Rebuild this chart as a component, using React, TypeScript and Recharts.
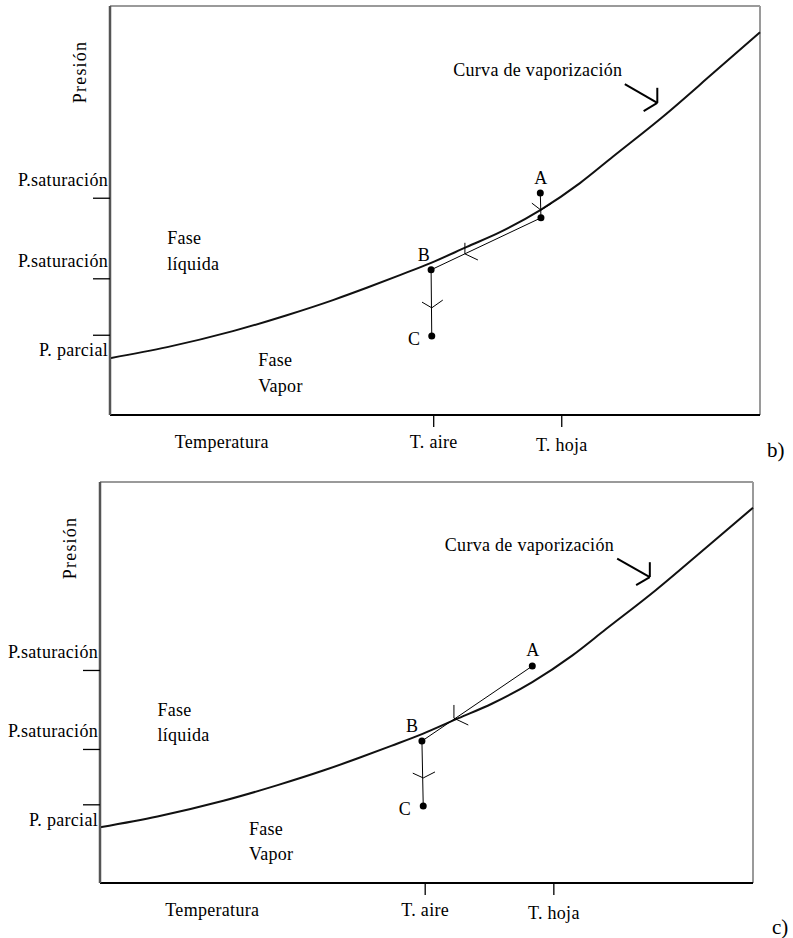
import { ComposedChart, Line, Scatter, XAxis, YAxis, ReferenceLine, ReferenceDot } from 'recharts'

// Vaporization curve, pressure vs temperature (arbitrary 0-100 units)
const curveT = [0, 8.8, 18.9, 27.2, 34.3, 39.5, 44.6, 49.4, 54.9, 60.0, 66.2, 72.3, 77.4, 85.1, 92.8, 100]
const curveP = [13.9, 16.6, 20.5, 24.4, 28.1, 31.1, 34.2, 37.2, 41.1, 44.7, 50.1, 56.7, 63.2, 73.0, 83.6, 93.6]

const pressureTicks = [19.5, 33.3, 53.0]
const pressureLabels = ['P. parcial', 'P.saturación', 'P.saturación']
const tempTicks = [17.2, 49.8, 69.5]
const tempLabels = ['Temperatura', 'T. aire', 'T. hoja']

// Region / curve annotations shared by both panels
const regionText = ['Fase', 'líquida', 'Fase', 'Vapor', 'Curva de vaporización']
const regionT = [8.8, 8.8, 22.8, 22.8, 52.8]
const regionP = [43.2, 37.0, 13.4, 7.2, 84.4]

// pointer from the curve label to the curve: [t1, p1, t2, p2]
const pointerSegs = [
  [79.2, 80.9, 84.2, 76.3],
  [84.2, 80.0, 84.2, 76.3],
  [82.1, 74.3, 84.2, 76.3],
]

// panel b: A -> A' (cooling at the leaf) -> B -> C
const pointNamesB = ['A', '', 'B', 'C']
const pointTB = [66.2, 66.3, 49.4, 49.5]
const pointPB = [54.3, 48.2, 35.5, 19.3]
const labelTB = [66.3, 0, 48.3, 46.8]
const labelPB = [57.9, 0, 39.1, 18.6]
const segsB = [
  [66.2, 54.3, 66.3, 48.2],
  [66.3, 48.2, 49.4, 35.5],
  [49.4, 35.5, 49.5, 19.3],
  // arrow heads
  [64.9, 51.8, 66.3, 50.1],
  [68.0, 51.8, 66.3, 50.1],
  [54.6, 42.1, 54.6, 39.4],
  [56.6, 37.9, 54.6, 39.4],
  [48.0, 27.6, 49.5, 26.2],
  [51.2, 28.1, 49.5, 26.2],
]

// panel c: A -> B directly -> C
const pointNamesC = ['A', 'B', 'C']
const pointTC = [66.2, 49.3, 49.5]
const pointPC = [54.1, 35.4, 19.2]
const labelTC = [66.3, 47.8, 46.7]
const labelPC = [58.1, 39.2, 18.5]
const segsC = [
  [66.2, 54.1, 49.3, 35.4],
  [49.3, 35.4, 49.5, 19.2],
  [54.2, 44.4, 54.2, 41.1],
  [56.4, 39.4, 54.2, 41.1],
  [47.9, 27.4, 49.5, 26.2],
  [51.3, 27.7, 49.5, 26.2],
]

const FONT = '"Liberation Serif", "Times New Roman", serif'
const txtStyle = { fontFamily: FONT, fontSize: 18, letterSpacing: 0.3 }
const curve = curveT.map((t, i) => ({ x: t, y: curveP[i] }))

const YTick = (props: any) => {
  const { x, y, index } = props
  const dy = index === 0 ? 21 : -12
  return (
    <text x={x + 15} y={y + dy} textAnchor="end" style={txtStyle} fill="#000">
      {pressureLabels[index]}
    </text>
  )
}

const XTick = (props: any) => {
  const { x, y, index } = props
  return (
    <g>
      {index > 0 && <line x1={x} y1={y} x2={x} y2={y + 12} stroke="#000" strokeWidth={1.3} />}
      <text x={x} y={y + 33 + (index === 2 ? 3 : 0)} textAnchor="middle" style={txtStyle} fill="#000">
        {tempLabels[index]}
      </text>
    </g>
  )
}

const PressureTitle = (props: any) => {
  const vb = props.viewBox
  const cx = vb.x + vb.width - 30
  const cy = vb.y + 66
  return (
    <text
      x={cx}
      y={cy}
      dy={6}
      textAnchor="middle"
      transform={`rotate(-90 ${cx} ${cy})`}
      style={{ fontFamily: FONT, fontSize: 18, letterSpacing: 1.2 }}
      fill="#000"
    >
      Presión
    </text>
  )
}

const textShape = (label: string, anchor: 'start' | 'middle') => (p: any) => (
  <text x={p.cx} y={p.cy} dy={6} textAnchor={anchor} style={txtStyle} fill="#000">
    {label}
  </text>
)

interface PanelProps {
  top: number
  height: number
  margin: { top: number; right: number; bottom: number; left: number }
  names: string[]
  pts: number[][]
  labels: number[][]
  segs: number[][]
}

function Panel({ top, height, margin, names, pts, labels, segs }: PanelProps) {
  const dots = pts[0].map((t, i) => ({ x: t, y: pts[1][i] }))
  return (
    <div style={{ position: 'absolute', left: 0, top }}>
      <ComposedChart width={793} height={height} data={curve} margin={margin}>
        <XAxis
          type="number"
          dataKey="x"
          domain={[0, 100]}
          ticks={tempTicks}
          tick={<XTick />}
          tickLine={false}
          tickSize={0}
          tickMargin={0}
          height={40}
          axisLine={{ stroke: '#000', strokeWidth: 2 }}
          interval={0}
        />
        <YAxis
          type="number"
          dataKey="y"
          domain={[0, 100]}
          ticks={pressureTicks}
          tick={<YTick />}
          tickLine={{ stroke: '#000', strokeWidth: 1.3 }}
          tickSize={17}
          tickMargin={0}
          width={60}
          axisLine={{ stroke: '#555', strokeWidth: 2.5 }}
          interval={0}
          label={<PressureTitle />}
        />
        {/* frame, top and right */}
        <ReferenceLine y={100} stroke="#9a9a9a" strokeWidth={2} ifOverflow="visible" />
        <ReferenceLine x={100} stroke="#9a9a9a" strokeWidth={2} ifOverflow="visible" />
        <Line
          type="monotone"
          dataKey="y"
          stroke="#111"
          strokeWidth={2}
          dot={false}
          isAnimationActive={false}
        />
        {segs.map((s, i) => (
          <ReferenceLine
            key={'s' + i}
            segment={[{ x: s[0], y: s[1] }, { x: s[2], y: s[3] }]}
            stroke="#000"
            strokeWidth={1}
            ifOverflow="visible"
          />
        ))}
        {pointerSegs.map((s, i) => (
          <ReferenceLine
            key={'p' + i}
            segment={[{ x: s[0], y: s[1] }, { x: s[2], y: s[3] }]}
            stroke="#000"
            strokeWidth={2}
            ifOverflow="visible"
          />
        ))}
        <Scatter
          data={dots}
          dataKey="y"
          fill="#000"
          isAnimationActive={false}
          shape={(p: any) => <circle cx={p.cx} cy={p.cy} r={3.5} fill="#000" />}
        />
        {names.map((n, i) =>
          n ? (
            <ReferenceDot
              key={'n' + i}
              x={labels[0][i]}
              y={labels[1][i]}
              r={0}
              shape={textShape(n, 'middle')}
            />
          ) : null
        )}
        {regionText.map((txt, i) => (
          <ReferenceDot key={'r' + i} x={regionT[i]} y={regionP[i]} r={0} shape={textShape(txt, 'start')} />
        ))}
      </ComposedChart>
    </div>
  )
}

export default function App() {
  return (
    <div style={{ position: 'absolute', left: 0, top: 0, width: 793, height: 938, overflow: 'hidden', background: '#fff' }}>
      <Panel
        top={0}
        height={470}
        margin={{ top: 6, right: 33, bottom: 15, left: 50 }}
        names={pointNamesB}
        pts={[pointTB, pointPB]}
        labels={[labelTB, labelPB]}
        segs={segsB}
      />
      <Panel
        top={470}
        height={468}
        margin={{ top: 12, right: 40, bottom: 15, left: 40 }}
        names={pointNamesC}
        pts={[pointTC, pointPC]}
        labels={[labelTC, labelPC]}
        segs={segsC}
      />
      <svg width={793} height={938} style={{ position: 'absolute', left: 0, top: 0, pointerEvents: 'none' }}>
        <text x={767} y={457} style={{ fontFamily: FONT, fontSize: 21 }} fill="#000">b)</text>
        <text x={772} y={934} style={{ fontFamily: FONT, fontSize: 21 }} fill="#000">c)</text>
      </svg>
    </div>
  )
}
